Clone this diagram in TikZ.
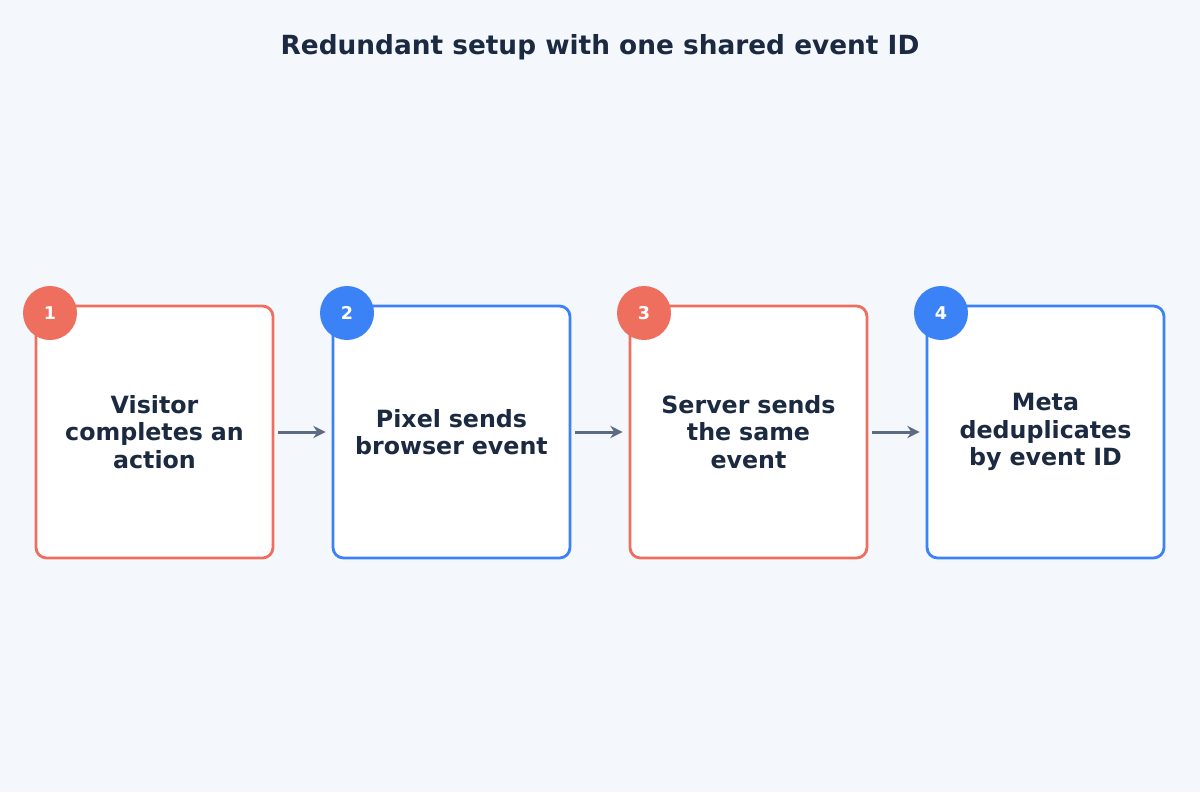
\documentclass[tikz,border=0pt]{standalone}
\usepackage{fontspec}
\setmainfont{DejaVu Sans}
\usetikzlibrary{arrows.meta}
\definecolor{bgc}{HTML}{F4F7FC}
\definecolor{redc}{HTML}{EF6F5E}
\definecolor{bluec}{HTML}{3B82F6}
\definecolor{ink}{HTML}{1B2A41}
\definecolor{arrc}{HTML}{5A6B82}
\begin{document}
\begin{tikzpicture}[x=0.02cm,y=-0.02cm,
  step/.style={draw=#1,line width=1.6pt,fill=white,rounded corners=6pt,minimum width=237*0.02cm,minimum height=252*0.02cm,
    align=center,text width=200*0.02cm,font=\bfseries\fontsize{13.5}{15.6}\selectfont,text=ink},
  badge/.style={circle,fill=#1,minimum size=54*0.02cm,inner sep=0pt,text=white,font=\bfseries\fontsize{10}{11}\selectfont},
  flow/.style={arrc,line width=1.7pt,-{Stealth[length=7pt,width=7pt]}}]
\fill[bgc] (0,0) rectangle (1200,792);
\node[font=\bfseries\fontsize{15}{18}\selectfont,text=ink] (title) at (600,47) {Redundant setup with one shared event ID};
%
\node[step=redc] (s1) at (154.5,432) {Visitor\\completes an\\action};
\node[step=bluec] (s2) at (451.5,432) {Pixel sends\\browser event};
\node[step=redc] (s3) at (748.5,432) {Server sends\\the same\\event};
\node[step=bluec] (s4) at (1045.5,432) {Meta\\deduplicates\\by event ID};
%
\node[badge=redc] (b1) at (50,313) {1};
\node[badge=bluec] (b2) at (347,313) {2};
\node[badge=redc] (b3) at (644,313) {3};
\node[badge=bluec] (b4) at (941,313) {4};
%
\draw[flow] ([xshift=4*0.02cm]s1.east) -- ([xshift=-6*0.02cm]s2.west);
\draw[flow] ([xshift=4*0.02cm]s2.east) -- ([xshift=-6*0.02cm]s3.west);
\draw[flow] ([xshift=4*0.02cm]s3.east) -- ([xshift=-6*0.02cm]s4.west);
\end{tikzpicture}
\end{document}
